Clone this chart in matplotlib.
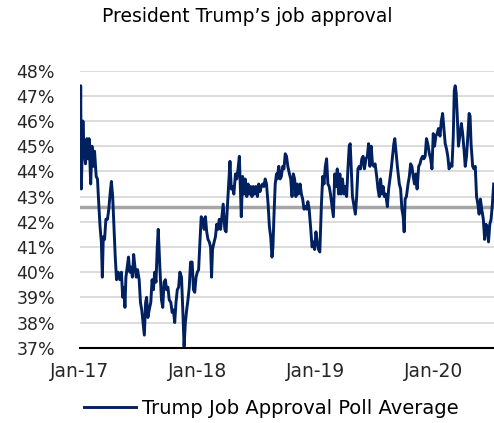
import numpy as np
import pandas as pd
import matplotlib.pyplot as plt

# Poll average: days since inauguration and approval (%)
start = pd.Timestamp("2017-01-20")
days = [0, 2, 4, 9, 12, 17, 21, 25, 28, 33, 37, 41, 45, 50, 54, 58, 62, 66, 69, 72,
        76, 80, 85, 89, 93, 97, 101, 105, 109, 113, 118, 123, 128, 132, 136, 139, 142,
        146, 150, 154, 158, 162, 166, 170, 174, 178, 183, 187, 191, 195, 199, 203, 206,
        210, 214, 219, 223, 227, 231, 235, 239, 242, 247, 252, 256, 260, 264, 268, 272,
        276, 281, 285, 289, 293, 297, 301, 305, 309, 314, 318, 322, 326, 330, 334, 338,
        342, 347, 351, 355, 359, 363, 367, 371, 375, 380, 384, 388, 392, 396, 400, 404,
        407, 410, 415, 419, 423, 427, 431, 435, 439, 443, 448, 452, 456, 460, 464, 468,
        472, 476, 481, 485, 489, 493, 499, 503, 507, 511, 516, 520, 524, 528, 532, 536,
        540, 544, 549, 553, 557, 561, 565, 569, 573, 577, 582, 586, 590, 594, 597, 600,
        604, 608, 610, 615, 619, 623, 627, 631, 635, 639, 643, 648, 652, 656, 660, 664,
        668, 672, 676, 681, 685, 689, 693, 697, 701, 705, 709, 714, 718, 722, 726, 730,
        734, 738, 742, 747, 751, 755, 759, 763, 767, 771, 775, 779, 784, 788, 792, 796,
        800, 804, 808, 812, 817, 821, 825, 829, 833, 836, 839, 843, 847, 852, 856, 860,
        864, 868, 872, 876, 880, 885, 889, 893, 897, 901, 905, 909, 913, 918, 922, 926,
        930, 934, 938, 942, 946, 951, 955, 959, 963, 967, 971, 974, 977, 982, 988, 992,
        996, 1000, 1003, 1006, 1010, 1015, 1019, 1023, 1027, 1031, 1035, 1039, 1043,
        1048, 1052, 1056, 1060, 1064, 1068, 1072, 1076, 1081, 1085, 1089, 1093, 1097,
        1101, 1105, 1109, 1114, 1118, 1122, 1126, 1130, 1134, 1138, 1142, 1147, 1151,
        1155, 1158, 1161, 1164, 1167, 1171, 1175, 1180, 1184, 1188, 1192, 1196, 1200,
        1204, 1207, 1210, 1215, 1219, 1223, 1227, 1231, 1235, 1239, 1243, 1248, 1252,
        1256, 1260, 1264, 1268, 1272, 1276, 1280]
approval = [43.8, 47.4, 43.3, 46.0, 44.9, 44.3, 45.3, 44.5, 45.3, 43.5, 45.0, 44.2, 44.8,
            43.8, 43.7, 42.7, 41.8, 41.2, 39.8, 41.4, 41.3, 42.1, 42.1, 42.5, 43.1, 43.6,
            43.0, 41.8, 40.6, 39.7, 40.0, 39.7, 40.0, 39.0, 39.4, 38.6, 39.8, 40.2, 40.6,
            40.0, 40.2, 39.8, 40.7, 40.2, 39.8, 40.1, 39.7, 38.8, 38.5, 38.0, 37.5, 38.8,
            39.0, 38.2, 38.5, 38.8, 39.7, 39.3, 40.0, 39.6, 41.0, 41.7, 40.2, 38.9, 38.6,
            39.6, 39.7, 39.3, 39.4, 38.9, 38.8, 38.4, 38.5, 38.0, 38.8, 39.3, 39.4, 40.0,
            39.8, 38.5, 37.05, 38.0, 38.5, 38.9, 39.4, 40.4, 40.4, 39.3, 39.2, 39.8, 40.0,
            40.1, 41.2, 42.2, 42.1, 41.7, 42.2, 41.6, 41.3, 41.2, 41.0, 39.8, 40.9, 41.2,
            41.4, 41.9, 41.7, 42.1, 41.7, 42.2, 42.7, 41.7, 41.6, 42.6, 43.5, 44.4, 43.3,
            43.4, 43.1, 43.9, 43.7, 44.1, 44.6, 42.2, 43.8, 43.1, 43.7, 43.0, 43.5, 43.1,
            43.4, 43.0, 43.4, 43.1, 43.4, 43.0, 43.5, 43.2, 43.4, 43.5, 43.4, 43.7, 43.5,
            42.7, 41.8, 41.4, 40.6, 41.0, 42.2, 43.5, 43.9, 43.7, 44.2, 43.7, 43.8, 44.2,
            44.1, 44.7, 44.6, 44.2, 43.9, 43.7, 43.0, 43.9, 43.7, 43.0, 43.5, 43.1, 43.5,
            43.1, 42.9, 42.5, 42.6, 42.5, 42.8, 42.5, 41.7, 41.0, 41.2, 40.9, 41.6, 41.2,
            40.9, 40.8, 42.7, 43.8, 43.5, 44.2, 44.5, 43.5, 43.4, 43.1, 42.7, 42.2, 43.9,
            43.4, 44.1, 43.1, 43.9, 43.1, 43.7, 43.1, 43.4, 43.0, 44.1, 45.0, 45.1, 44.2,
            43.0, 42.7, 42.3, 43.0, 44.1, 44.2, 44.1, 44.5, 44.6, 44.1, 44.5, 44.6, 45.1,
            44.2, 45.0, 44.3, 44.2, 44.3, 43.8, 43.3, 43.0, 43.7, 43.1, 43.4, 43.0, 43.1,
            42.6, 43.3, 43.7, 44.1, 44.6, 45.1, 45.3, 44.9, 44.2, 43.5, 43.3, 42.5, 42.2,
            41.6, 42.9, 43.0, 43.5, 43.8, 44.3, 44.2, 43.8, 43.5, 43.9, 43.3, 44.2, 44.3,
            44.5, 44.6, 44.5, 44.6, 45.3, 45.1, 44.7, 44.5, 44.1, 45.5, 45.0, 45.4, 45.5,
            45.7, 45.4, 46.0, 46.3, 45.7, 45.1, 44.9, 44.6, 44.1, 44.3, 44.2, 45.4, 47.2,
            47.4, 47.1, 46.3, 45.0, 45.4, 45.9, 45.5, 44.9, 44.2, 44.6, 45.4, 46.3, 46.2,
            45.1, 44.2, 44.1, 44.2, 43.0, 42.7, 42.3, 42.9, 42.5, 42.1, 41.3, 41.9, 41.8,
            41.2, 41.9, 42.1, 42.7, 43.5]
average_level = 42.6
year_labels = ["Jan-17", "Jan-18", "Jan-19", "Jan-20"]

dates = start + pd.to_timedelta(days, unit="D")

fig = plt.figure(figsize=(4.94, 4.23), dpi=100)
ax = fig.add_axes([0.162, 0.178, 0.838, 0.655])

ax.plot(dates, approval, color="#002060", linewidth=2.1, zorder=3,
        label="Trump Job Approval Poll Average")
ax.axhline(average_level, color="#a6a6a6", linewidth=2.5, zorder=2)

ax.set_ylim(37, 48)
ax.set_yticks(np.arange(37, 49, 1))
ax.set_yticklabels([f"{v}%" for v in range(37, 49)])
ax.grid(True, axis="y", color="#d9d9d9", linewidth=1.3, zorder=0)

ax.set_xlim(start, start + pd.Timedelta(days=1281))
ticks = [start + pd.DateOffset(years=i) for i in range(len(year_labels))]
ax.set_xticks(ticks)
ax.set_xticklabels(year_labels)

ax.tick_params(axis="both", length=0, colors="#262626")
ax.tick_params(axis="y", pad=18, labelsize=12.5)
ax.tick_params(axis="x", pad=10, labelsize=13.5)
for spine in ["top", "right", "left"]:
    ax.spines[spine].set_visible(False)
ax.spines["bottom"].set_color("black")
ax.spines["bottom"].set_linewidth(1.5)
ax.spines["bottom"].set_zorder(4)

fig.text(0.5, 0.96, "President Trump\u2019s job approval", ha="center", va="center",
         fontsize=13.5, color="black")

fig.legend(loc="center", bbox_to_anchor=(0.549, 0.035), frameon=False,
           fontsize=14, handlelength=2.7, handletextpad=0.3)

fig.savefig("out.png", dpi=100)
